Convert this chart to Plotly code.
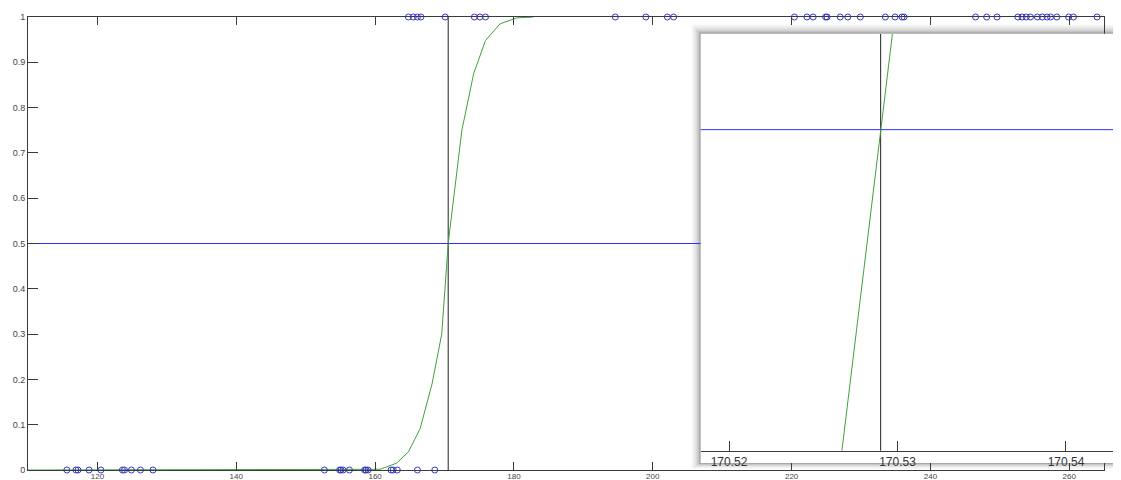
import plotly.graph_objects as go

# ---------------- data ----------------
# observations with outcome 0 (x positions)
obs0_x = [115.6, 116.9, 117.2, 118.8, 120.5, 123.6, 123.9, 124.9, 126.2, 128.0,
          152.7, 154.9, 155.1, 155.4, 156.3, 158.5, 158.7, 159.0, 162.3, 162.6,
          163.2, 166.1, 168.6]
# observations with outcome 1
obs1_x = [164.8, 165.5, 166.1, 166.6, 170.1, 174.3, 175.1, 175.9, 194.6, 199.0,
          202.1, 203.0, 220.4, 222.2, 223.1, 224.9, 225.1, 227.0, 228.1, 229.9,
          233.5, 234.9, 235.9, 236.2, 246.5, 248.1, 249.6, 252.6, 253.2, 253.8,
          254.4, 255.4, 256.1, 256.8, 257.3, 258.2, 259.9, 260.6, 264.0]

# fitted curve
curve_x = [110.0, 150.0, 158.0, 160.7, 163.1, 164.8, 166.5, 168.2, 169.6, 170.53,
           172.5, 174.2, 175.9, 178.0, 180.4, 182.8]
curve_y = [0.0, 0.0, 0.0003, 0.0015, 0.015, 0.040, 0.092, 0.19, 0.30, 0.5,
           0.75, 0.875, 0.948, 0.985, 0.998, 1.0]

threshold_x = 170.53
half_level = 0.5

# inset (zoom near the 0.5 crossing)
inset_curve_x = [170.5267, 170.5297]
inset_curve_y = [0.4996997, 0.5000897]
inset_threshold_x = 170.529
inset_tickvals = [170.52, 170.53, 170.54]
inset_ticktext = ["170.52", "170.53", "170.54"]

main_xticks = [120, 140, 160, 180, 200, 220, 240, 260]

# ---------------- figure ----------------
# the page body adds an 8px offset; positions below are given in screen pixels
OFF = 8
W, H = 1113, 472
L, R, T, B = 20, 0, 8.5, 10
PW, PH = W - L - R, H - T - B

def px_x(p):
    return (p - OFF - L) / PW

def px_y(p):
    return (H - B - (p - OFF)) / PH

GREEN = "#40a040"
BLUE = "#3030ff"
MARK = "#3838d0"
AX = "#3a3a3a"

fig = go.Figure()

# main traces
fig.add_trace(go.Scatter(x=[curve_x[0], 265], y=[half_level, half_level], mode="lines",
                         line=dict(color=BLUE, width=1), xaxis="x", yaxis="y", showlegend=False))
fig.add_trace(go.Scatter(x=[threshold_x, threshold_x], y=[0, 1], mode="lines",
                         line=dict(color="#222222", width=1), xaxis="x", yaxis="y", showlegend=False))
fig.add_trace(go.Scatter(x=curve_x, y=curve_y, mode="lines",
                         line=dict(color=GREEN, width=1), xaxis="x", yaxis="y", showlegend=False))
fig.add_trace(go.Scatter(x=obs0_x, y=[0] * len(obs0_x), mode="markers", cliponaxis=False,
                         marker=dict(symbol="circle-open", size=6, color=MARK, line=dict(width=1)),
                         xaxis="x", yaxis="y", showlegend=False))
fig.add_trace(go.Scatter(x=obs1_x, y=[1] * len(obs1_x), mode="markers", cliponaxis=False,
                         marker=dict(symbol="circle-open", size=6, color=MARK, line=dict(width=1)),
                         xaxis="x", yaxis="y", showlegend=False))

# inset traces
inset_y_range = [0.49968822, 0.50008969]
fig.add_trace(go.Scatter(x=[170.50, 170.56], y=[half_level, half_level], mode="lines",
                         line=dict(color=BLUE, width=1), xaxis="x2", yaxis="y2", showlegend=False))
fig.add_trace(go.Scatter(x=[inset_threshold_x, inset_threshold_x],
                         y=[inset_curve_y[0], inset_y_range[1]], mode="lines",
                         line=dict(color="#222222", width=1), xaxis="x2", yaxis="y2", showlegend=False))
fig.add_trace(go.Scatter(x=inset_curve_x, y=inset_curve_y, mode="lines",
                         line=dict(color=GREEN, width=1), xaxis="x2", yaxis="y2", showlegend=False))

# shadow of the inset box
shapes = []
for off, col in [(9, "#f4f4f4"), (7, "#e8e8e8"), (5, "#d8d8d8"), (3, "#c2c2c2"), (1.5, "#a8a8a8")]:
    shapes.append(dict(type="rect", xref="paper", yref="paper", layer="below",
                       x0=px_x(700.7 - off), x1=1.0,
                       y0=px_y(463 + off * 0.6), y1=px_y(33.3 - off),
                       fillcolor=col, line=dict(width=0)))

axis_font = dict(family="Liberation Sans, Arial, sans-serif", size=9, color="#444444")
xaxis_font = dict(family="Liberation Sans, Arial, sans-serif", size=8, color="#444444")

fig.update_layout(
    width=W, height=H,
    margin=dict(l=L, r=R, t=T, b=B, autoexpand=False),
    paper_bgcolor="white", plot_bgcolor="white",
    shapes=shapes,
    xaxis=dict(domain=[0, px_x(1104)], range=[110, 265], anchor="y", automargin=False,
               tickvals=main_xticks, ticks="inside", ticklen=8, tickcolor=AX,
               showline=True, linecolor=AX, linewidth=1, mirror="ticks",
               showgrid=False, zeroline=False, tickfont=xaxis_font, ticklabelstandoff=-2),
    yaxis=dict(domain=[0, 1], range=[0, 1], anchor="x", dtick=0.1, tick0=0, automargin=False,
               ticks="inside", ticklen=10, tickcolor=AX,
               showline=True, linecolor=AX, linewidth=1, mirror="ticks",
               showgrid=False, zeroline=False, tickfont=axis_font),
    xaxis2=dict(domain=[px_x(700.7), 1.0], range=[170.51832, 170.51832 + (1121 - 700.7) * 5.935e-5],
                anchor="free", position=px_y(450.7), automargin=False,
                tickvals=inset_tickvals, ticktext=inset_ticktext,
                ticks="inside", ticklen=10, tickcolor=AX,
                showline=True, linecolor=AX, linewidth=1,
                showgrid=False, zeroline=False,
                tickfont=dict(family="Liberation Sans, Arial, sans-serif", size=12, color="#333333")),
    yaxis2=dict(domain=[px_y(463), px_y(33.3)], range=inset_y_range, anchor="x2", automargin=False,
                showline=False, showticklabels=False, ticks="",
                showgrid=False, zeroline=False),
)

fig.write_html("out.html")
